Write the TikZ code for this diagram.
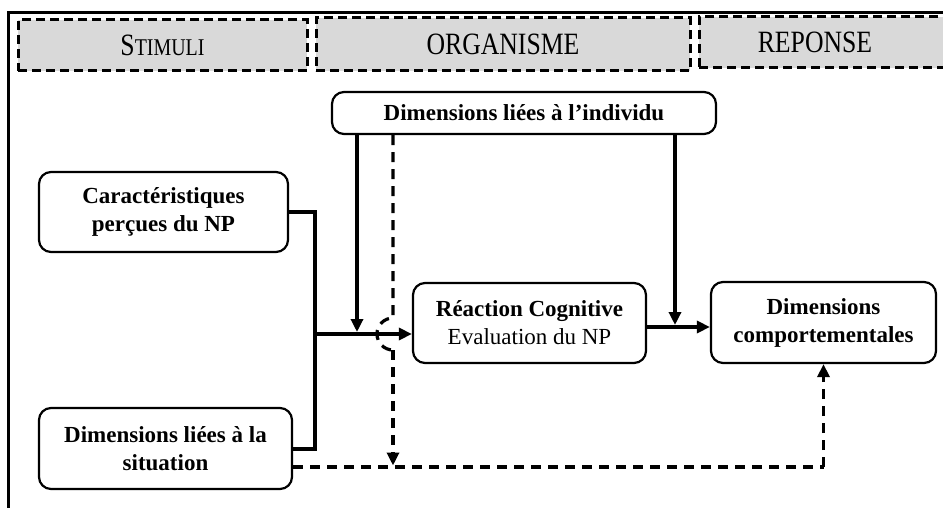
\documentclass[tikz,border=0pt]{standalone}
\usepackage{fontspec}
\setmainfont{Liberation Serif}
\newfontfamily\hdrfont[FakeStretch=0.83]{Liberation Serif}
\usetikzlibrary{arrows.meta,calc}
\definecolor{hdrgray}{HTML}{D9D9D9}
\begin{document}
\begin{tikzpicture}[x=1pt,y=-1pt,
  hdr/.style={draw, line width=3pt, dash pattern=on 9pt off 5pt, fill=hdrgray, inner sep=0pt, font=\hdrfont\fontsize{31}{34}\selectfont},
  box/.style={draw, line width=2.2pt, rounded corners=12pt, fill=white, align=center, inner sep=0pt, font=\fontsize{23}{28}\selectfont\bfseries},
  conn/.style={line width=4pt},
  dconn/.style={line width=3.2pt, dash pattern=on 10pt off 7pt},
  tip/.style={-{Triangle[length=13pt,width=12pt]}}]
\useasboundingbox (0,0) rectangle (943,508);
\clip (0,0) rectangle (943,508);
\fill[white] (0,0) rectangle (943,508);
% frame
\draw[line width=3pt] (8,520) -- (8,13) -- (950,13);
% headers
\node[hdr, minimum width=289pt, minimum height=51pt] (stim) at (162.5,45.5)
  {S{\fontsize{24}{27}\selectfont TIMULI}};
\node[hdr, minimum width=374pt, minimum height=53pt] (org) at (503,44.5) {ORGANISME};
\node[hdr, minimum width=262pt, minimum height=51pt] (rep) at (830,42.5) {REPONSE\kern30pt\relax};
% boxes
\node[box, minimum width=384pt, minimum height=42pt] (indiv) at (524,113) {Dimensions liées à l’individu};
\node[box, minimum width=249pt, minimum height=80pt] (caract) at (163.5,212) {Caractéristiques\\perçues du NP};
\node[box, minimum width=233pt, minimum height=80pt] (reac) at (529.5,323) {Réaction Cognitive\\\mdseries Evaluation du NP};
\node[box, minimum width=225pt, minimum height=81pt] (comp) at (823.5,322.5) {Dimensions\\comportementales};
\node[box, minimum width=253pt, minimum height=81pt] (situ) at (165.5,448.5) {Dimensions liées à la\\situation};
% helper coordinates
\coordinate (j) at (315,334);
\coordinate (il) at (357,334);
\coordinate (ir) at (675,327);
\coordinate (m) at (646,327);
\coordinate (dx) at (393,318);
\coordinate (dh) at (393,350);
\coordinate (dd) at (393,467);
\coordinate (dc) at (823.5,467);
% solid connectors
\draw[conn] (caract.east) -| (j);
\draw[conn] (situ.east) -| (j);
\draw[conn,tip] (j) -- (reac.west |- j);
\draw[conn,tip] (indiv.south -| il) -- ($(il)+(0,-2)$);
\draw[conn,tip] (reac.east |- m) -- (comp.west |- m);
\draw[conn,tip] (indiv.south -| ir) -- ($(ir)+(0,-2)$);
% dashed connectors
\draw[dconn] (indiv.south -| dx) -- (dx) arc[start angle=-90, end angle=-270, radius=16];
\draw[dconn,tip] (dh) -- ($(dd)+(0,-1.5)$);
\draw[dconn] (situ.east |- dc) -- (dc);
\draw[dconn,tip] (dc) -- (comp.south);
\end{tikzpicture}
\end{document}
